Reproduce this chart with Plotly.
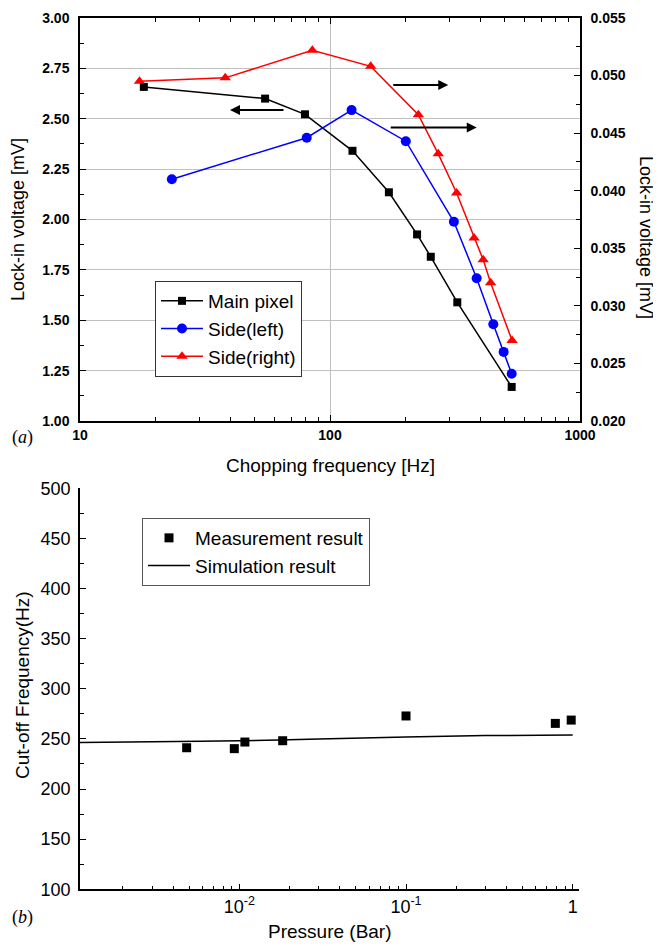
import plotly.graph_objects as go

# ---- (a) lock-in voltage vs chopping frequency ----
main_freq = [18.0, 55.0, 79.4, 123, 172, 223, 253, 323, 533]
main_volt = [2.658, 2.600, 2.522, 2.341, 2.135, 1.926, 1.815, 1.589, 1.169]

left_freq = [23.3, 80.7, 122, 201, 313, 386, 450, 495, 533]
left_volt = [0.0410, 0.0446, 0.0470, 0.0443, 0.0373, 0.0324, 0.0284, 0.0260, 0.0241]

right_freq = [17.3, 38.1, 85, 145.5, 225.6, 271, 321, 377, 410, 439, 535]
right_volt = [0.0495, 0.0498, 0.0522, 0.0508, 0.0466, 0.0432, 0.0398, 0.0359, 0.0340, 0.0320, 0.0270]

# ---- (b) cut-off frequency vs pressure ----
meas_p = [0.00483, 0.00933, 0.0108, 0.0182, 0.100, 0.787, 0.98]
meas_f = [241.2, 240.3, 246.9, 248.2, 272.9, 265.5, 268.8]

sim_p = [0.0011, 0.003, 0.01, 0.03, 0.1, 0.3, 1.0]
sim_f = [246.5, 247.2, 248.2, 250.0, 252.0, 253.3, 253.8]

FONT = 'Liberation Sans, Arial, sans-serif'
W, H = 661, 945
OFF = 8  # default body margin of the html page
FW, FH = W - OFF, H - OFF

# minor tick positions on the log axes (2..9 of each decade)
minor_top = [m * 10 ** e for e in (1, 2) for m in range(2, 10)]
minor_bot = [m * 10 ** e for e in (-3, -2, -1) for m in range(2, 10)]


def px(x, y):
    '''window pixel -> paper coords'''
    return (x - OFF) / FW, 1 - (y - OFF) / FH


fig = go.Figure()

fig.add_trace(go.Scatter(x=main_freq, y=main_volt, name='Main pixel', mode='lines+markers',
                         line=dict(color='black', width=1.5),
                         marker=dict(symbol='square', size=8, color='black'),
                         xaxis='x', yaxis='y', legend='legend'))
fig.add_trace(go.Scatter(x=left_freq, y=left_volt, name='Side(left)', mode='lines+markers',
                         line=dict(color='#0000ff', width=1.5),
                         marker=dict(symbol='circle', size=10, color='#0000ff'),
                         xaxis='x', yaxis='y2', legend='legend'))
fig.add_trace(go.Scatter(x=right_freq, y=right_volt, name='Side(right)', mode='lines+markers',
                         line=dict(color='#ff0000', width=1.5),
                         marker=dict(symbol='triangle-up', size=10, color='#ff0000'),
                         xaxis='x', yaxis='y2', legend='legend'))

fig.add_trace(go.Scatter(x=meas_p, y=meas_f, name='Measurement result', mode='markers',
                         marker=dict(symbol='square', size=9, color='black'),
                         xaxis='x2', yaxis='y3', legend='legend2'))
fig.add_trace(go.Scatter(x=sim_p, y=sim_f, name='Simulation result', mode='lines',
                         line=dict(color='black', width=1.5, shape='spline'),
                         xaxis='x2', yaxis='y3', legend='legend2'))

bold = dict(family=FONT, size=14, color='black', weight='bold')
plain = dict(family=FONT, size=18, color='black')

top_dom = [px(0, 421)[1], px(0, 18)[1]]
bot_dom = [px(0, 889.3)[1], px(0, 488.3)[1]]
xdom = [px(80, 0)[0], px(580, 0)[0]]

fig.update_layout(
    width=FW, height=FH,
    margin=dict(l=0, r=0, t=0, b=0),
    paper_bgcolor='white', plot_bgcolor='white',
    font=dict(family=FONT, color='black'),
    xaxis=dict(type='log', range=[1, 3], domain=xdom, anchor='y', automargin=False,
               showline=True, linecolor='black', linewidth=1.5, mirror='ticks',
               ticks='inside', ticklen=6, tickcolor='black', dtick=1,
               tickfont=bold, showgrid=True, gridcolor='#c0c0c0', gridwidth=1,
               minor=dict(tickmode='array', tickvals=minor_top, ticks='inside', ticklen=4,
                          tickcolor='black', showgrid=False),
               zeroline=False),
    yaxis=dict(range=[1, 3], domain=top_dom, anchor='x', automargin=False,
               showline=True, linecolor='black', linewidth=1.5,
               ticks='inside', ticklen=6, tickcolor='black', dtick=0.25, tickformat='.2f',
               tickfont=bold, showgrid=True, gridcolor='#c0c0c0', gridwidth=1,
               minor=dict(ticks='inside', ticklen=4, tickcolor='black', dtick=0.125, showgrid=False),
               zeroline=False, ticklabelstandoff=6),
    yaxis2=dict(range=[0.020, 0.055], overlaying='y', side='right', anchor='x', automargin=False,
                showline=True, linecolor='black', linewidth=1.5,
                ticks='inside', ticklen=6, tickcolor='black', dtick=0.005, tick0=0.02,
                tickformat='.3f', tickfont=bold, showgrid=False,
                minor=dict(ticks='inside', ticklen=4, tickcolor='black', dtick=0.0025, showgrid=False),
                zeroline=False, ticklabelstandoff=6),
    xaxis2=dict(type='log', range=[-2.956, 0.038], domain=[px(80, 0)[0], px(579, 0)[0]], anchor='y3',
                automargin=False,
                showline=True, linecolor='black', linewidth=1.5,
                ticks='inside', ticklen=6, tickcolor='black',
                tickvals=[0.01, 0.1, 1], ticktext=['10<sup>-2</sup>', '10<sup>-1</sup>', '1'],
                tickfont=dict(family=FONT, size=18, color='black'), showgrid=False,
                minor=dict(tickmode='array', tickvals=minor_bot, ticks='inside', ticklen=4,
                           tickcolor='black', showgrid=False),
                zeroline=False),
    yaxis3=dict(range=[100, 500], domain=bot_dom, anchor='x2', automargin=False,
                showline=True, linecolor='black', linewidth=1.5,
                ticks='inside', ticklen=6, tickcolor='black', dtick=50,
                tickfont=dict(family=FONT, size=18, color='black'), showgrid=False,
                minor=dict(ticks='inside', ticklen=4, tickcolor='black', dtick=25, showgrid=False),
                zeroline=False, ticklabelstandoff=4),
    legend=dict(x=px(155, 281)[0], y=px(155, 281)[1], xanchor='left', yanchor='top',
                bordercolor='#333333', borderwidth=1, bgcolor='white', itemwidth=42,
                font=dict(family=FONT, size=19, color='black'), tracegroupgap=0),
    legend2=dict(x=px(142, 518)[0], y=px(142, 518)[1], xanchor='left', yanchor='top',
                 bordercolor='#555555', borderwidth=1, bgcolor='white', itemwidth=42,
                 font=dict(family=FONT, size=19, color='black')),
)

# axis titles as annotations
serif = dict(family='Liberation Serif, Times New Roman, serif', size=18, color='black')
annos = [
    dict(text='Lock-in voltage [mV]', pos=(18, 220), textangle=-90, font=plain),
    dict(text='Lock-in voltage [mV]', pos=(646, 237), textangle=90, font=plain),
    dict(text='Chopping frequency [Hz]', pos=(330, 465), font=dict(family=FONT, size=19)),
    dict(text='Cut-off Frequency(Hz)', pos=(22, 685), textangle=-90, font=dict(family=FONT, size=19)),
    dict(text='Pressure (Bar)', pos=(330, 931), font=dict(family=FONT, size=19)),
    dict(text='(<i>a</i>)', pos=(22, 437), font=serif),
    dict(text='(<i>b</i>)', pos=(22, 917), font=serif),
]
for a in annos:
    x, y = px(*a.pop('pos'))
    fig.add_annotation(x=x, y=y, xref='paper', yref='paper', showarrow=False,
                       xanchor='center', yanchor='middle', **a)

# arrows pointing to the axis each curve belongs to (log10 x, left-axis y)
arrows = [
    (1.60, 2.543, 1.82, 2.543),
    (2.473, 2.667, 2.247, 2.667),
    (2.587, 2.456, 2.237, 2.456),
]
for x, y, ax, ay in arrows:
    fig.add_annotation(x=x, y=y, ax=ax, ay=ay, xref='x', yref='y', axref='x', ayref='y',
                       text='', showarrow=True, arrowhead=2, arrowsize=1, arrowwidth=2,
                       arrowcolor='black')

fig.write_html('out.html')
